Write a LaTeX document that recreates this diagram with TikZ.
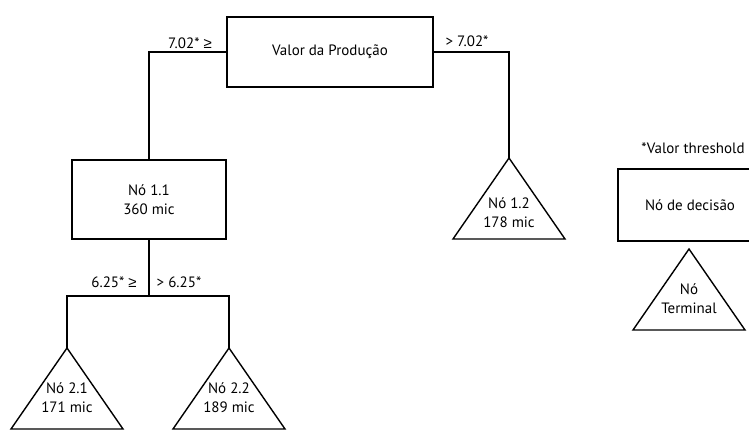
\documentclass[tikz,border=0pt]{standalone}
\usepackage{fontspec}
\setmainfont{PT Sans}
\newfontfamily\simbolo{Liberation Sans}
\newcommand{\maiorigual}{{\simbolo ≥}}
\usetikzlibrary{calc}

\begin{document}
\begin{tikzpicture}[x=1pt,y=-1pt,line width=1.4pt,
    caixa/.style={draw,rectangle,align=center,font=\fontsize{15}{19}\selectfont},
    rotulo/.style={font=\fontsize{15}{19}\selectfont,inner sep=0pt}]
            \clip (0,0) rectangle (749,430);

            \node[caixa,minimum width=206pt,minimum height=70pt] (raiz) at (330,52) {Valor da Produção};
            \node[caixa,minimum width=154pt,minimum height=79pt] (n11) at (149,199.5) {Nó 1.1\\360 mic};
            \node[caixa,minimum width=144pt,minimum height=72pt] (decisao) at (690,205) {Nó de decisão};

            \coordinate (n12top) at (509,158);
            \coordinate (n21top) at (67,348);
            \coordinate (n22top) at (229,348);
            \coordinate (termtop) at (689,249);
            \coordinate (ramo) at (149,296);

            \foreach \t in {n12top,n21top,n22top,termtop}
                \draw[line join=miter] (\t) -- ++(-56,81) -- ++(112,0) -- cycle;

            \draw (raiz.west) -| (n11.north);
            \draw (raiz.east) -| (n12top);
            \draw (n11.south) -- (ramo);
            \draw (n21top) |- (ramo) -| (n22top);

            \node[rotulo] (lim1) at (190,43) {7.02* \maiorigual};
            \node[rotulo] (lim2) at (467,41) {> 7.02*};
            \node[rotulo] (lim3) at (114,282) {6.25* \maiorigual};
            \node[rotulo] (lim4) at (179,282) {> 6.25*};
            \node[rotulo] (nota) at (693,148) {*Valor threshold};

            \node[rotulo,align=center] (n12) at (509,213) {Nó 1.2\\178 mic};
            \node[rotulo,align=center] (n21) at (67,398) {Nó 2.1\\171 mic};
            \node[rotulo,align=center] (n22) at (229,398) {Nó 2.2\\189 mic};
            \node[rotulo,align=center] (term) at (689,299) {Nó\\Terminal};
\end{tikzpicture}
\end{document}
